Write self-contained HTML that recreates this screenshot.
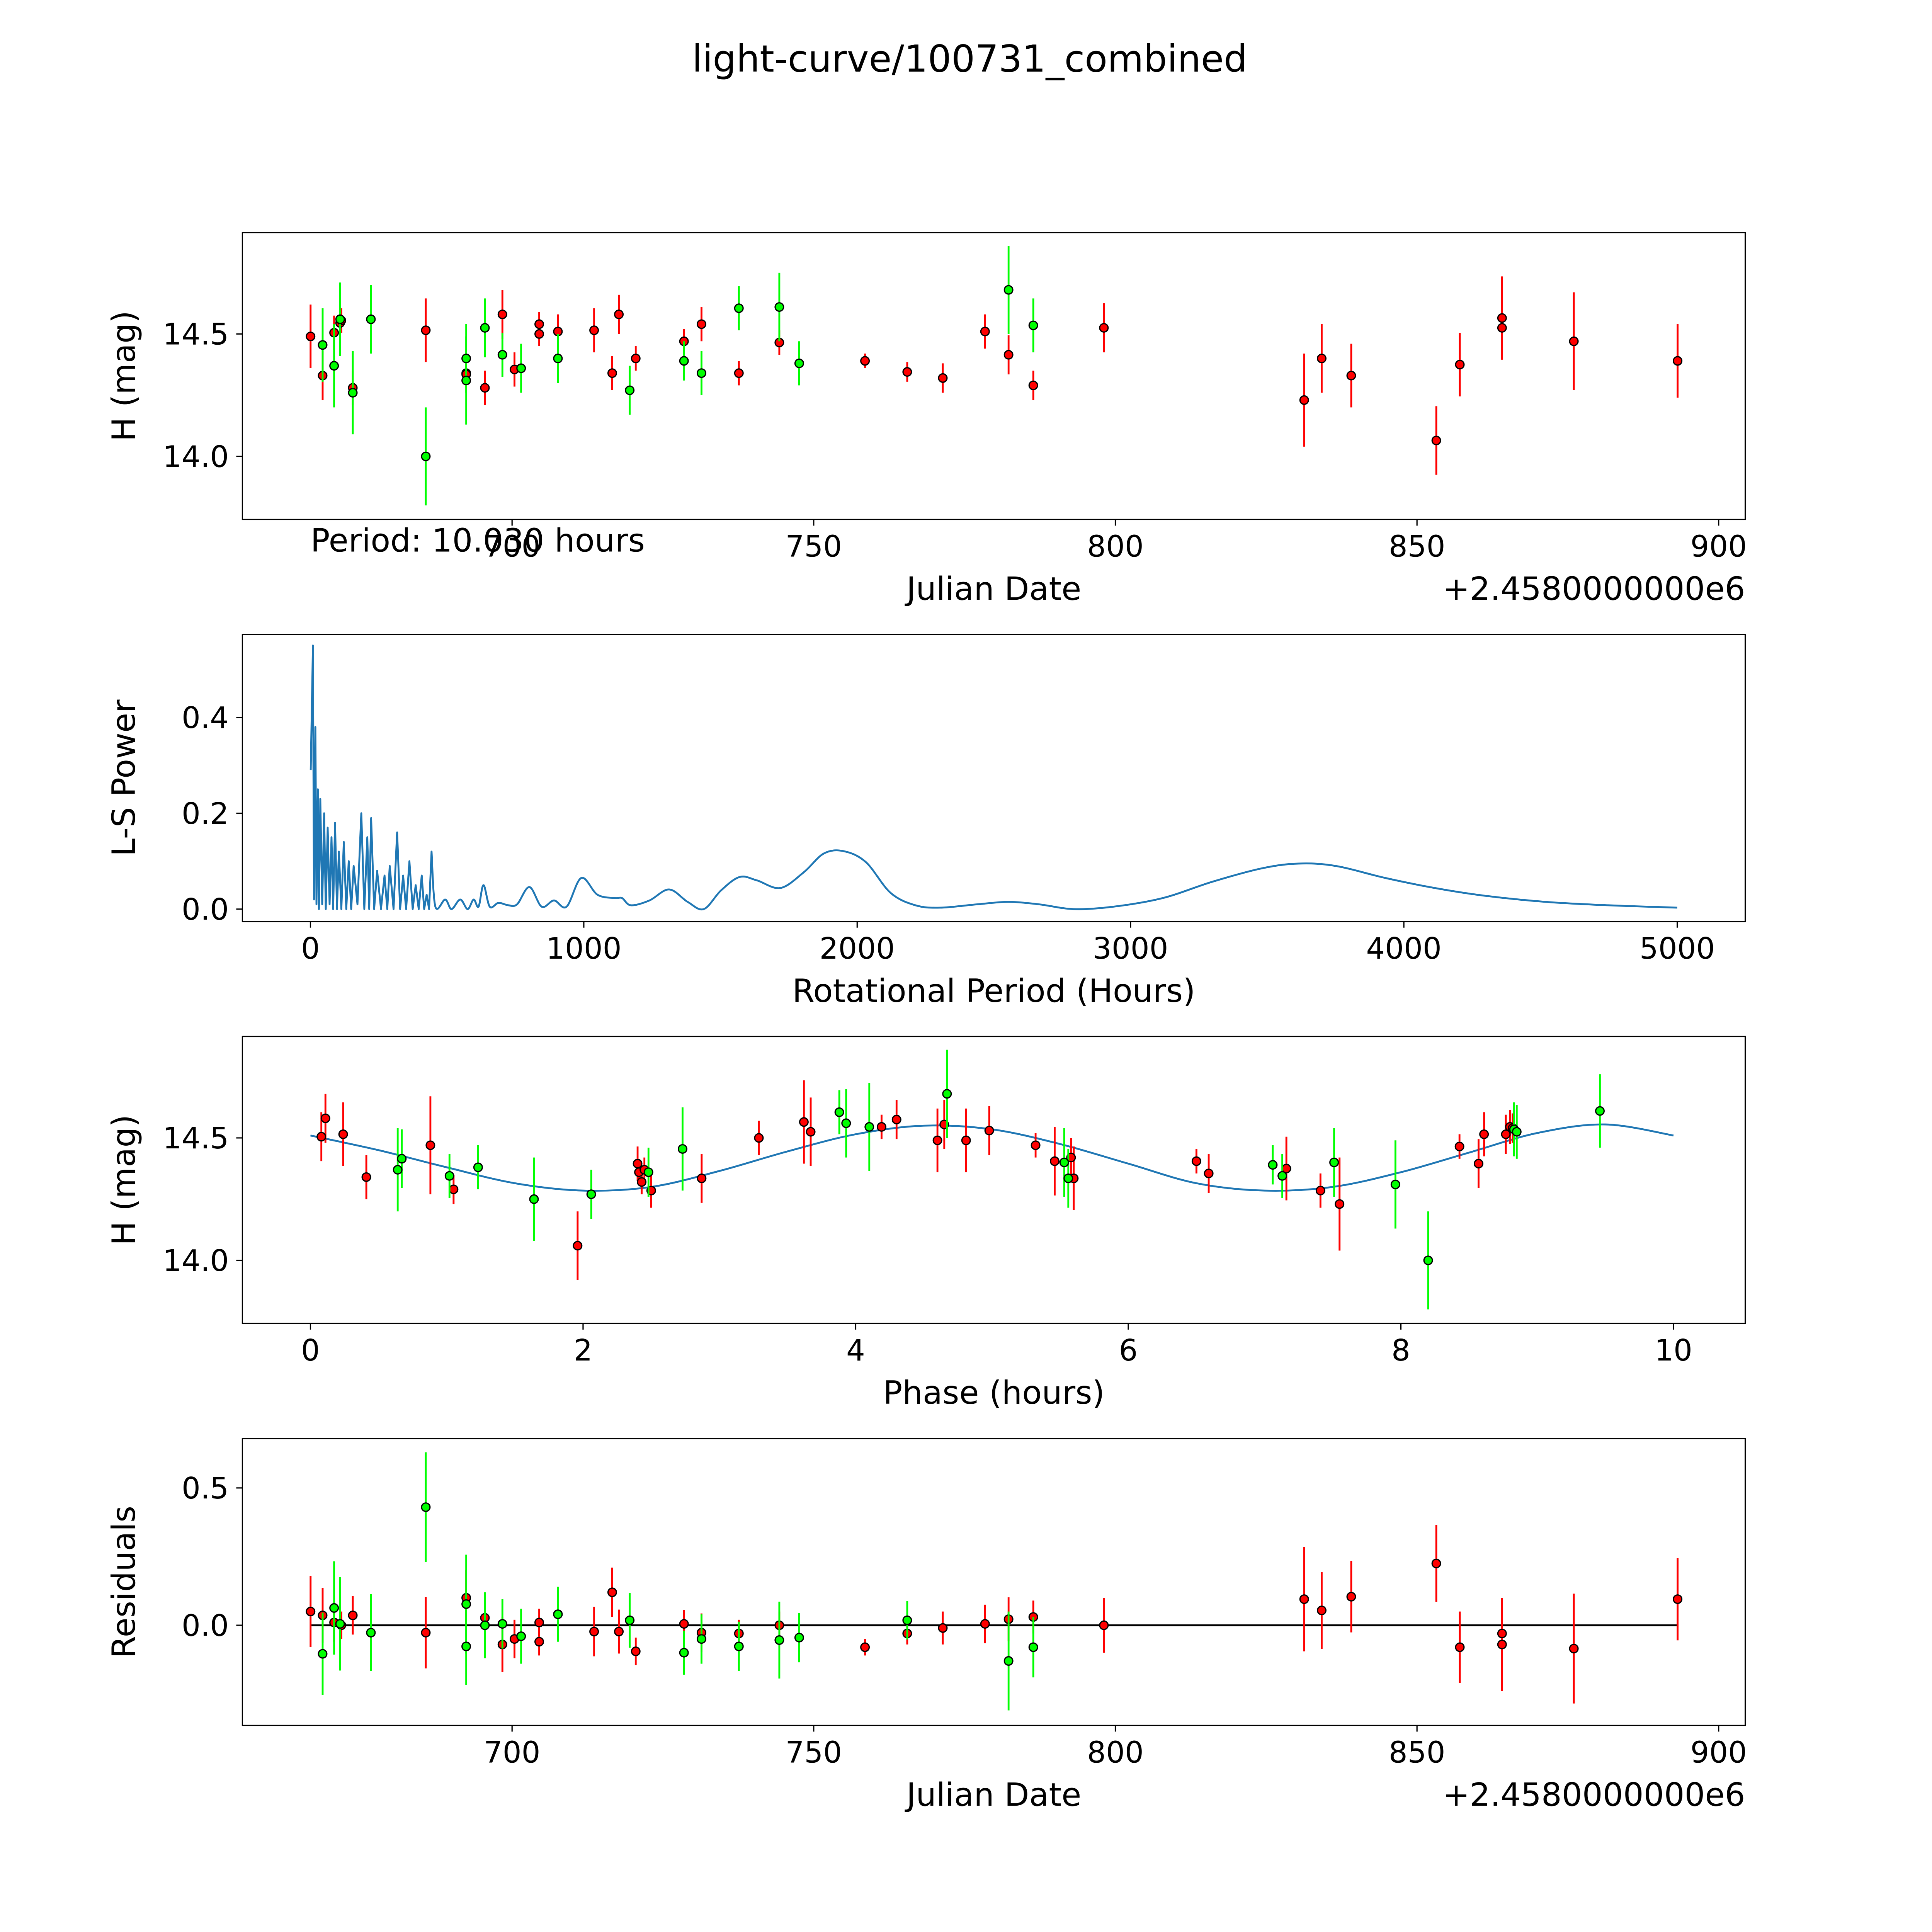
<!DOCTYPE html>
<html><head><meta charset="utf-8">
<style>
html,body{margin:0;padding:0;background:#fff;overflow:hidden;width:100%;height:100%;}
svg{display:block;font-family:"DejaVu Sans","Liberation Sans",sans-serif;width:100vw;height:100vh;}
</style></head>
<body>
<svg id="fig" viewBox="0 0 1562 1562" preserveAspectRatio="xMinYMin meet" xmlns="http://www.w3.org/2000/svg">
<rect width="1562" height="1562" fill="#fff"/>
<text x="784" y="58" font-size="30" text-anchor="middle">light-curve/100731_combined</text>
</svg>
<script>
// ---- Panel 1 data: H magnitude vs Julian date (offset 2458000) ----
const redDay = [666.6,668.6,670.5,671.5,671.7,673.6,685.7,692.4,692.4,695.5,698.4,700.4,704.5,704.5,707.6,713.6,716.6,717.7,720.5,728.5,731.4,737.6,744.3,758.5,765.5,771.4,778.4,782.3,786.4,798.1,831.3,834.2,839.1,853.2,857.1,864.1,864.1,876.0,893.2];
const redMag = [14.49,14.33,14.505,14.545,14.555,14.28,14.515,14.34,14.335,14.28,14.58,14.355,14.54,14.5,14.51,14.515,14.34,14.58,14.40,14.47,14.54,14.34,14.465,14.39,14.345,14.32,14.51,14.415,14.29,14.525,14.23,14.40,14.33,14.065,14.375,14.565,14.525,14.47,14.39];
const redErr = [0.13,0.1,0.07,0.05,0.05,0.07,0.13,0.05,0.05,0.07,0.1,0.07,0.05,0.05,0.07,0.09,0.07,0.08,0.05,0.05,0.07,0.05,0.05,0.03,0.04,0.06,0.07,0.08,0.06,0.1,0.19,0.14,0.13,0.14,0.13,0.17,0.1,0.2,0.15];
const greenDay = [668.6,670.5,671.5,673.6,676.6,685.7,692.4,692.4,695.5,698.4,701.5,707.6,719.5,728.5,731.4,737.6,744.3,747.6,782.3,786.4];
const greenMag = [14.455,14.37,14.56,14.26,14.56,14.0,14.4,14.31,14.525,14.415,14.36,14.4,14.27,14.39,14.34,14.605,14.61,14.38,14.68,14.535];
const greenErr = [0.15,0.17,0.15,0.17,0.14,0.2,0.14,0.18,0.12,0.09,0.1,0.1,0.1,0.08,0.09,0.09,0.14,0.09,0.18,0.11];

// ---- Panel 2: Lomb-Scargle periodogram ----
const lsPeriod = [1,9,13,18,22,27,31,36,43,50,56,63,70,77,83,90,97,104,113,122,131,140,149,158,172,186,197,208,215,222,233,244,258,271,281,290,304,317,328,339,350,362,374,385,396,407,416,425,434,443,457,493,516,548,575,597,615,633,656,688,724,756,801,846,891,937,991,1050,1113,1140,1172,1240,1312,1380,1439,1502,1570,1633,1719,1805,1878,1950,2032,2122,2213,2303,2439,2552,2665,2792,2937,3118,3299,3480,3615,3751,3932,4113,4294,4520,4747,5000];
const lsPower = [0.29,0.55,0.02,0.38,0.01,0.25,0.0,0.23,0.01,0.2,0.0,0.17,0.01,0.15,0.0,0.18,0.0,0.12,0.0,0.14,0.0,0.1,0.0,0.09,0.01,0.2,0.0,0.15,0.0,0.19,0.0,0.08,0.0,0.07,0.0,0.09,0.0,0.16,0.0,0.07,0.0,0.1,0.0,0.05,0.0,0.07,0.0,0.03,0.0,0.12,0.005,0.02,0.0,0.02,0.0,0.02,0.005,0.05,0.005,0.013,0.008,0.01,0.046,0.005,0.018,0.005,0.065,0.03,0.023,0.023,0.008,0.018,0.041,0.015,0.0,0.039,0.067,0.06,0.044,0.077,0.116,0.121,0.098,0.034,0.008,0.003,0.01,0.015,0.01,0.0,0.005,0.023,0.057,0.085,0.095,0.09,0.065,0.044,0.028,0.015,0.008,0.003];

// ---- Panel 3: phase-folded ----
const redPhase = [0.08,0.11,0.24,0.41,0.88,1.05,1.96,2.40,2.41,2.43,2.45,2.50,2.87,3.29,3.62,3.67,4.19,4.30,4.60,4.65,4.81,4.98,5.32,5.46,5.58,5.60,6.50,6.59,7.16,7.41,7.55,8.43,8.57,8.61,8.77,8.80,8.82];
const redPhaseMag = [14.505,14.58,14.515,14.34,14.47,14.29,14.06,14.395,14.36,14.32,14.37,14.285,14.335,14.5,14.565,14.525,14.545,14.575,14.49,14.555,14.49,14.53,14.47,14.405,14.42,14.335,14.405,14.355,14.375,14.285,14.23,14.465,14.395,14.515,14.515,14.545,14.54];
const redPhaseErr = [0.1,0.1,0.13,0.09,0.2,0.06,0.14,0.07,0.05,0.05,0.05,0.07,0.1,0.07,0.17,0.14,0.05,0.08,0.13,0.1,0.13,0.1,0.05,0.14,0.08,0.13,0.05,0.08,0.13,0.07,0.19,0.05,0.1,0.09,0.08,0.07,0.06];
const greenPhase = [0.64,0.67,1.02,1.23,1.64,2.06,2.48,2.73,3.88,3.93,4.10,4.67,5.53,5.56,7.06,7.13,7.51,7.96,8.20,8.83,8.85,9.46];
const greenPhaseMag = [14.37,14.415,14.345,14.38,14.25,14.27,14.36,14.455,14.605,14.56,14.545,14.68,14.4,14.335,14.39,14.345,14.4,14.31,14.0,14.535,14.525,14.61];
const greenPhaseErr = [0.17,0.12,0.09,0.09,0.17,0.1,0.1,0.17,0.09,0.14,0.18,0.18,0.14,0.12,0.08,0.09,0.14,0.18,0.2,0.11,0.11,0.15];
const fitPhase = [0,0.5,1,1.5,2,2.5,3,3.5,4,4.5,5,5.5,6,6.5,7,7.5,8,8.5,9,9.5,10];
const fitMag = [14.51,14.45,14.38,14.315,14.285,14.30,14.365,14.445,14.515,14.55,14.535,14.475,14.395,14.315,14.285,14.30,14.36,14.44,14.52,14.555,14.51];

// ---- Panel 4: residuals ----
const redResDay = [666.6,668.6,670.5,671.7,673.6,685.7,692.4,695.5,698.4,700.4,704.5,704.5,707.6,713.6,716.6,717.7,720.5,728.5,731.4,737.6,744.3,758.5,765.5,771.4,778.4,782.3,786.4,798.1,831.3,834.2,839.1,853.2,857.1,864.1,864.1,876.0,893.2];
const redRes = [0.05,0.036,0.01,0.0,0.036,-0.027,0.1,0.027,-0.07,-0.05,0.01,-0.06,0.04,-0.023,0.12,-0.023,-0.095,0.005,-0.027,-0.03,0.0,-0.08,-0.03,-0.01,0.005,0.022,0.03,0.0,0.095,0.054,0.104,0.225,-0.08,-0.03,-0.07,-0.085,0.095];
const redResErr = [0.13,0.1,0.07,0.05,0.07,0.13,0.1,0.07,0.1,0.07,0.05,0.05,0.07,0.09,0.09,0.08,0.05,0.05,0.07,0.05,0.05,0.03,0.04,0.06,0.07,0.08,0.06,0.1,0.19,0.14,0.13,0.14,0.13,0.05,0.17,0.2,0.15];
const greenResDay = [668.6,670.5,671.5,676.6,685.7,692.4,692.4,695.5,698.4,701.5,707.6,719.5,728.5,731.4,737.6,744.3,747.6,765.5,782.3,786.4];
const greenRes = [-0.104,0.063,0.005,-0.027,0.43,0.077,-0.077,0.0,0.005,-0.04,0.04,0.018,-0.1,-0.05,-0.077,-0.054,-0.045,0.018,-0.13,-0.08];
const greenResErr = [0.15,0.17,0.17,0.14,0.2,0.18,0.14,0.12,0.09,0.1,0.1,0.1,0.08,0.09,0.09,0.14,0.09,0.07,0.18,0.11];

const xTicksDate = [700,750,800,850,900];
const xTicksPeriod = [0,1000,2000,3000,4000,5000];
const xTicksPhase = [0,2,4,6,8,10];
const yTicksMag = [14.0,14.5];
const yTicksPower = [0.0,0.2,0.4];
const yTicksRes = [0.0,0.5];

const NS = "http://www.w3.org/2000/svg";
const fig = document.getElementById('fig');
function mk(tag, attrs, parent){
  const e = document.createElementNS(NS, tag);
  for (const k in attrs) e.setAttribute(k, attrs[k]);
  (parent||fig).appendChild(e);
  return e;
}
const L = 196, R = 1411;
function lin(d0,d1,p0,p1){ return v => p0 + (v-d0)*(p1-p0)/(d1-d0); }

function axes(name, top, xs, ys, xt, yt, xfmt, yfmt, xlabel, ylabel){
  const g = mk('g', {});
  
  
  const bot = top + 232;
  xt.forEach(t => {
    const x = xs(t);
    mk('line', {x1:x,x2:x,y1:bot,y2:bot+5,stroke:'#000','stroke-width':1}, g);
    const tx = mk('text', {x:x,y:bot+30,'font-size':24,'text-anchor':'middle'}, g);
    
    
    tx.textContent = xfmt(t);
  });
  yt.forEach(t => {
    const y = ys(t);
    mk('line', {x1:L-5,x2:L,y1:y,y2:y,stroke:'#000','stroke-width':1}, g);
    const ty = mk('text', {x:L-11,y:y+8.5,'font-size':24,'text-anchor':'end'}, g);
    
    
    ty.textContent = yfmt(t);
  });
  const xl = mk('text', {x:(L+R)/2,y:bot+65,'font-size':26,'text-anchor':'middle'}, g);
  
  
  xl.textContent = xlabel;
  const yl = mk('text', {x:0,y:0,'font-size':26,'text-anchor':'middle',transform:`translate(${L-87},${top+116}) rotate(-90)`}, g);
  
  
  yl.textContent = ylabel;
  return g;
}
function frame(top){
  const f = mk('rect', {x:L,y:top,width:R-L,height:232,fill:'none',stroke:'#000','stroke-width':1});
  
  
}
function scatter(xsArr, ysArr, errArr, xs, ys, color, name){
  const g = mk('g', {});
  
  
  xsArr.forEach((v,i) => {
    const x = xs(v);
    const e1 = ys(ysArr[i]-errArr[i]), e2 = ys(ysArr[i]+errArr[i]);
    const eb = mk('line', {x1:x,x2:x,y1:e1,y2:e2,stroke:color,'stroke-width':1.5}, g);
    
    
  });
  xsArr.forEach((v,i) => {
    const c = mk('circle', {cx:xs(v),cy:ys(ysArr[i]),r:3.4,fill:color,stroke:'#000','stroke-width':1}, g);
    
    
  });
}
function offsetText(top){
  const t = mk('text', {x:R,y:top+232+65,'font-size':26,'text-anchor':'end'});
  
  
  t.textContent = '+2.4580000000e6';
}
function smoothPath(pts){
  let d = '';
  for (let i = 0; i < pts.length-1; i++){
    const p0 = pts[Math.max(0,i-1)], p1 = pts[i], p2 = pts[i+1], p3 = pts[Math.min(pts.length-1,i+2)];
    const c1 = [p1[0]+(p2[0]-p0[0])/6, p1[1]+(p2[1]-p0[1])/6];
    const c2 = [p2[0]-(p3[0]-p1[0])/6, p2[1]-(p3[1]-p1[1])/6];
    d += ` C${c1[0]},${c1[1]} ${c2[0]},${c2[1]} ${p2[0]},${p2[1]}`;
  }
  return d;
}
const fmtInt = t => String(t);
const fmt1 = t => t.toFixed(1);
const dateX = lin(700, 900, 414, 1389.5);

// Panel 1
const t1 = 188;
const y1 = lin(14.0, 14.5, 369, 270);
axes('light-curve-axes', t1, dateX, y1, xTicksDate, yTicksMag, fmtInt, fmt1, 'Julian Date', 'H (mag)');
scatter(redDay, redMag, redErr, dateX, y1, '#ff0000', 'red-series');
scatter(greenDay, greenMag, greenErr, dateX, y1, '#00ff00', 'green-series');
frame(t1); offsetText(t1);
const per = mk('text', {x:251,y:446,'font-size':26});


per.textContent = 'Period: 10.030 hours';

// Panel 2
const t2 = 513;
const x2 = lin(0, 5000, 251, 1356);
const y2 = lin(0, 0.4, 735, 580);
axes('periodogram-axes', t2, x2, y2, xTicksPeriod, yTicksPower, fmtInt, fmt1, 'Rotational Period (Hours)', 'L-S Power');
const lsPts = lsPeriod.map((p,i) => [x2(p), y2(lsPower[i])]);
let split = lsPeriod.findIndex(p => p >= 443);
let lsPath = lsPts.slice(0, split+1).map((q,i) => (i?'L':'M') + q[0].toFixed(2) + ',' + q[1].toFixed(2)).join(' ');
lsPath += smoothPath(lsPts.slice(split));
const lsLine = mk('path', {d:lsPath,fill:'none',stroke:'#1f77b4','stroke-width':1.5,'stroke-linejoin':'round'});


frame(t2);

// Panel 3
const t3 = 838;
const x3 = lin(0, 10, 251, 1353);
const y3 = lin(14.0, 14.5, 1019, 920);
axes('phase-axes', t3, x3, y3, xTicksPhase, yTicksMag, fmtInt, fmt1, 'Phase (hours)', 'H (mag)');
const fp = fitPhase.map((p,i) => [x3(p), y3(fitMag[i])]);
const fit = mk('path', {d:'M' + fp[0][0] + ',' + fp[0][1] + smoothPath(fp),fill:'none',stroke:'#1f77b4','stroke-width':1.5});


scatter(redPhase, redPhaseMag, redPhaseErr, x3, y3, '#ff0000', 'red-phase-series');
scatter(greenPhase, greenPhaseMag, greenPhaseErr, x3, y3, '#00ff00', 'green-phase-series');
frame(t3);

// Panel 4
const t4 = 1163;
const y4 = lin(0, 0.5, 1314, 1203);
axes('residuals-axes', t4, dateX, y4, xTicksDate, yTicksRes, fmtInt, fmt1, 'Julian Date', 'Residuals');
const zl = mk('line', {x1:dateX(666.6),x2:dateX(893.2),y1:y4(0),y2:y4(0),stroke:'#000','stroke-width':1.5});


scatter(redResDay, redRes, redResErr, dateX, y4, '#ff0000', 'red-residuals');
scatter(greenResDay, greenRes, greenResErr, dateX, y4, '#00ff00', 'green-residuals');
frame(t4); offsetText(t4);
</script>
</body></html>
